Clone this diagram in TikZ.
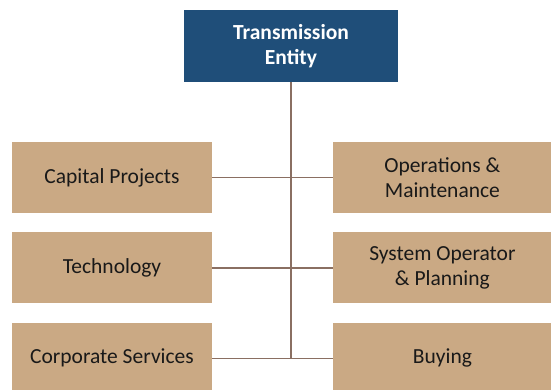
\documentclass[tikz,border=0pt]{standalone}
\usepackage{fontspec}
\setmainfont{Carlito}
\usetikzlibrary{positioning}

\definecolor{headblue}{HTML}{1F4E79}
\definecolor{unittan}{HTML}{CAA984}
\definecolor{linkbrown}{HTML}{8A6F62}

\begin{document}
\begin{tikzpicture}[
    x=1pt, y=-1pt,
    node distance=19pt and 121pt,
    unit/.style={fill=unittan, minimum height=71pt, align=center,
        inner sep=0pt, font=\fontsize{21.5}{25}\selectfont, text=black!90},
    link/.style={draw=linkbrown, line width=1.5pt}
]
    \useasboundingbox (0,0) rectangle (558,389);

    \node[fill=headblue, minimum width=214pt, minimum height=72pt, align=center,
        text=white, font=\fontsize{21.5}{25}\selectfont\bfseries] (head) at (291,46)
        {Transmission\\Entity};

    \node[unit, minimum width=200pt] (capital) at (112,177.5) {Capital Projects};
    \node[unit, minimum width=200pt, below=of capital] (tech) {Technology};
    \node[unit, minimum width=200pt, below=of tech] (corp) {Corporate Services};

    \node[unit, minimum width=218pt, right=of capital] (ops) {Operations \&\\Maintenance};
    \node[unit, minimum width=218pt, right=of tech] (sysop) {System Operator\\\& Planning};
    \node[unit, minimum width=218pt, right=of corp] (buying) {Buying};

    \coordinate (bus) at (head.south |- corp.east);

    \draw[link] (head.south) -- (bus);
    \draw[link] (capital.east) -- (ops.west);
    \draw[link] (tech.east) -- (sysop.west);
    \draw[link] (corp.east) -- (buying.west);
\end{tikzpicture}
\end{document}
